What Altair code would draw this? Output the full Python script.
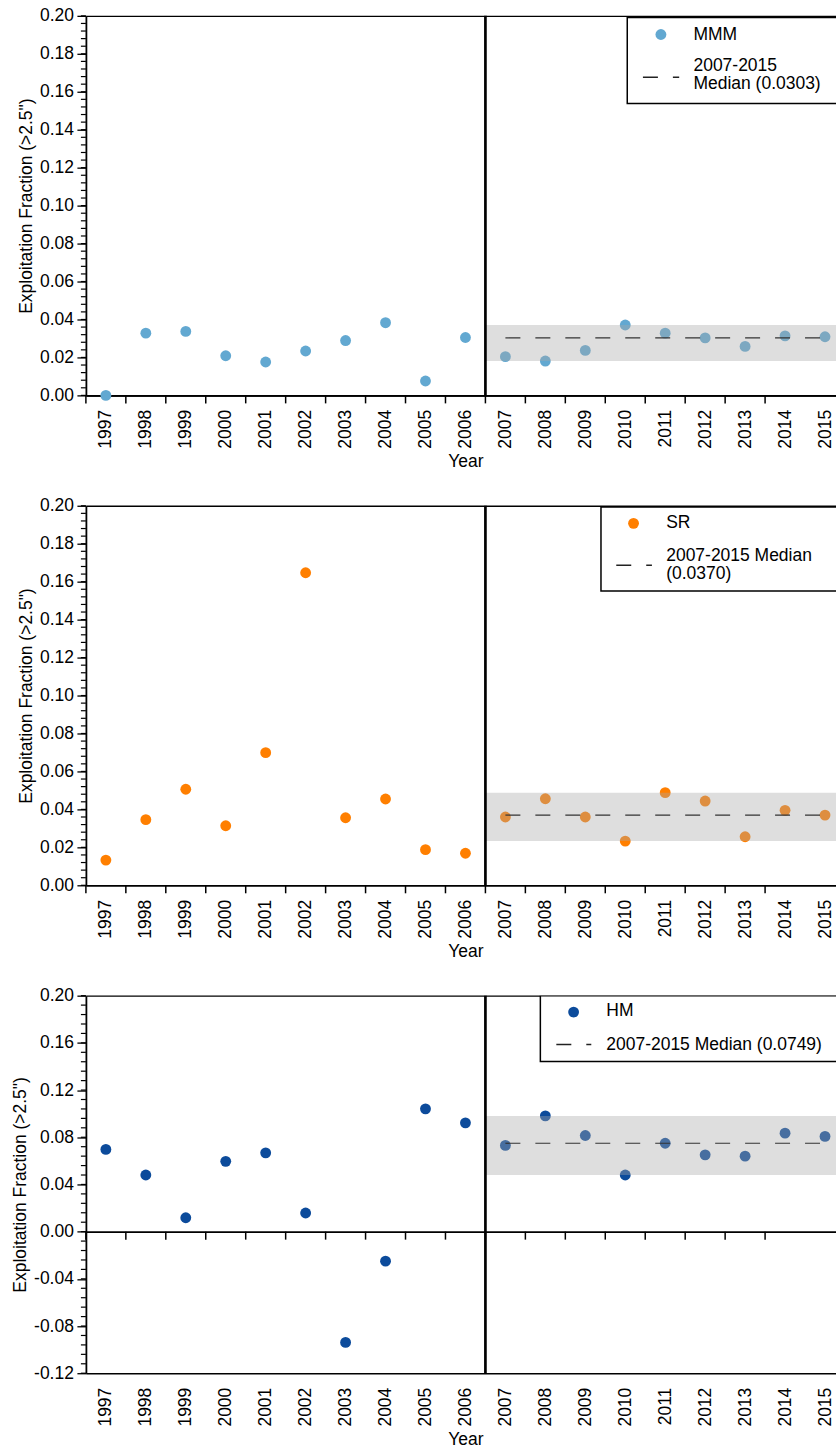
import altair as alt
import numpy as np
import pandas as pd

# Survey years and exploitation fractions (>2.5") for each region
YEARS = list(range(1997, 2016))
MMM = [0.0000, 0.0328, 0.0337, 0.0209, 0.0176, 0.0234, 0.0289, 0.0383, 0.0076, 0.0305,
       0.0204, 0.0181, 0.0237, 0.0371, 0.0328, 0.0303, 0.0258, 0.0314, 0.0309]
SR = [0.0133, 0.0346, 0.0506, 0.0314, 0.0699, 0.1647, 0.0356, 0.0455, 0.0188, 0.0169,
      0.0360, 0.0456, 0.0360, 0.0233, 0.0488, 0.0444, 0.0256, 0.0395, 0.0370]
HM = [0.0697, 0.0480, 0.0118, 0.0596, 0.0668, 0.0158, -0.0939, -0.0250, 0.1041, 0.0922,
      0.0731, 0.0981, 0.0815, 0.0480, 0.0749, 0.0651, 0.0640, 0.0835, 0.0807]

SERIES_NAMES = ["MMM", "SR", "HM"]
SERIES_COLORS = ["#62a8d1", "#ff7f00", "#0c4b9b"]

RECENT_START = 2007          # first year of the reference period
SPLIT = 2006.5               # divider between the two periods
X_MIN, X_MAX = 1996.5, 2015.275
BAND_END = 2016

FONT = "Liberation Sans"
FS = 17.5
PLOT_W = 751
DASH = [15, 15]
TICK_COLOR = "black"


def y_ticks(lo, hi, step):
    n = int(round((hi - lo) / step))
    return [round(lo + i * step, 4) for i in range(n + 1)]


def panel(name, values, color, ydom, major_step, minor_step, height, legend):
    df = pd.DataFrame({"year": YEARS, "value": values})
    recent = df[df["year"] >= RECENT_START]
    med = float(np.median(recent["value"]))

    xscale = alt.Scale(domain=[X_MIN, X_MAX], nice=False, zero=False)
    yscale = alt.Scale(domain=ydom, nice=False, zero=False)
    zero_offset = -height * (0 - ydom[0]) / (ydom[1] - ydom[0])

    labels_axis = alt.Axis(
        orient="bottom", values=YEARS, format="d", labelAngle=270,
        ticks=False, tickSize=0, labelPadding=14, labelFlush=False,
        labelOverlap=False, domain=True, domainWidth=1.6, grid=False,
        title="Year", titlePadding=4, titleX=380,
    )
    # zero line (coincides with the bottom edge when the domain starts at 0)
    zero_axis = alt.Axis(
        orient="bottom", labels=False, ticks=False, domain=True,
        domainWidth=1.6, grid=False, offset=zero_offset, title=None,
    )
    top_axis = alt.Axis(
        orient="top", labels=False, ticks=False, domain=True,
        domainWidth=1.3, grid=False, title=None,
    )
    major_axis = alt.Axis(
        orient="left", values=y_ticks(ydom[0], ydom[1], major_step),
        labelExpr="replace(format(datum.value, '.2f'), '\u2212', '-')",
        tickSize=9, tickWidth=1.3, labelPadding=3.5, labelFlush=False,
        labelOverlap=False, domain=True, domainWidth=1.8, grid=False,
        title='Exploitation Fraction (>2.5")', titlePadding=4,
    )

    base = alt.Chart(df)

    points = base.mark_circle(size=118, color=color, opacity=1).encode(
        x=alt.X("year:Q", scale=xscale, axis=labels_axis),
        y=alt.Y("value:Q", scale=yscale, axis=major_axis),
    )

    # year-boundary tick marks hanging below the zero line
    edges = pd.DataFrame({"edge": [y - 0.5 for y in YEARS[:-1]], "base": 0.0})
    x_ticks = alt.Chart(edges).mark_tick(
        orient="vertical", color=TICK_COLOR, size=8, thickness=1.5, yOffset=4, opacity=1
    ).encode(
        x=alt.X("edge:Q", scale=xscale, axis=zero_axis),
        y=alt.Y("base:Q", scale=yscale, axis=None),
    )

    # minor ticks on the value axis
    minor = pd.DataFrame({"v": y_ticks(ydom[0], ydom[1], minor_step)})
    y_minor = alt.Chart(minor).mark_rule(color=TICK_COLOR, strokeWidth=1.2).encode(
        y=alt.Y("v:Q", scale=yscale, axis=None),
        x=alt.value(-5),
        x2=alt.value(0),
    )

    band = (
        base.transform_filter(alt.datum.year >= RECENT_START)
        .transform_aggregate(lo="min(value)", hi="max(value)")
        .transform_calculate(x0=str(SPLIT), x1=str(BAND_END))
        .mark_rect(color="#a8a8a8", opacity=0.38, clip=True)
        .encode(
            x=alt.X("x0:Q", scale=xscale, axis=None),
            x2="x1:Q",
            y=alt.Y("lo:Q", scale=yscale, axis=None),
            y2="hi:Q",
        )
    )

    median = (
        base.transform_filter(alt.datum.year >= RECENT_START)
        .transform_aggregate(med="median(value)", start="min(year)", end="max(year)")
        .mark_rule(color="#333333", strokeWidth=1.2, strokeDash=DASH)
        .encode(
            x=alt.X("start:Q", scale=xscale, axis=top_axis),
            x2="end:Q",
            y=alt.Y("med:Q", scale=yscale, axis=None),
        )
    )

    divider = alt.Chart(pd.DataFrame({"split": [SPLIT]})).mark_rule(
        color="black", strokeWidth=2.7
    ).encode(x=alt.X("split:Q", scale=xscale, axis=None))

    # legend drawn inside the plot area, clipped at the right edge
    period = f"{RECENT_START}-{YEARS[-1]}"
    med_label = legend["fmt"].format(period=period, med=med)
    leg = alt.Chart(pd.DataFrame({"series": [name], "label": [med_label]}))

    box = leg.mark_rect(fill="white", stroke="black", strokeWidth=1.5, clip=True).encode(
        x=alt.value(legend["box"][0]), x2=alt.value(PLOT_W + 40),
        y=alt.value(legend["box"][1]), y2=alt.value(legend["box"][2]),
    )
    sym = leg.mark_circle(size=118, color=color, opacity=1).encode(
        x=alt.value(legend["sym"][0]), y=alt.value(legend["sym"][1]),
    )
    dash = leg.mark_rule(color="#222222", strokeWidth=1.5, strokeDash=DASH).encode(
        x=alt.value(legend["dash"][0]), x2=alt.value(legend["dash"][1]),
        y=alt.value(legend["dash"][2]),
    )
    name_text = leg.mark_text(
        align="left", baseline="alphabetic", font=FONT, fontSize=FS, color="black"
    ).encode(x=alt.value(legend["text_x"]), y=alt.value(legend["name_y"]), text="series:N")
    med_text = leg.mark_text(
        align="left", baseline="alphabetic", font=FONT, fontSize=FS, color="black",
        lineBreak="\n", lineHeight=17.6,
    ).encode(x=alt.value(legend["text_x"]), y=alt.value(legend["med_y"]), text="label:N")

    return (
        alt.layer(points, x_ticks, y_minor, band, median, divider,
                  box, sym, dash, name_text, med_text)
        .resolve_axis(x="independent", y="independent")
        .properties(width=PLOT_W, height=height)
    )


LEGENDS = [
    dict(fmt="{period}\nMedian ({med:.4f})", box=(542, 1.7, 87.7), sym=(575.7, 18.7),
         dash=(557.7, 594, 61.4), text_x=608.3, name_y=24, med_y=55.4),
    dict(fmt="{period} Median\n({med:.4f})", box=(515.7, 1.3, 85.3), sym=(548.3, 17.6),
         dash=(531, 566.7, 59.6), text_x=581, name_y=22.6, med_y=55.3),
    dict(fmt="{period} Median ({med:.4f})", box=(455, 0, 66), sym=(488.3, 16.4),
         dash=(471, 506, 49), text_x=521, name_y=20, med_y=54),
]

p1 = panel(SERIES_NAMES[0], MMM, SERIES_COLORS[0], [0, 0.2], 0.02, 0.004, 380, LEGENDS[0])
p2 = panel(SERIES_NAMES[1], SR, SERIES_COLORS[1], [0, 0.2], 0.02, 0.004, 380, LEGENDS[1])
p3 = panel(SERIES_NAMES[2], HM, SERIES_COLORS[2], [-0.12, 0.2], 0.04, 0.008, 378, LEGENDS[2])

chart = (
    alt.vconcat(p1, p2, p3, spacing=26.5)
    .properties(padding={"left": 11, "top": 6, "right": 0, "bottom": 0})
    .configure(font=FONT)
    .configure_view(stroke=None)
    .configure_axis(
        labelFont=FONT, labelFontSize=FS, labelColor="black",
        titleFont=FONT, titleFontSize=FS, titleFontWeight="normal", titleColor="black",
        domainColor="black", tickColor="black",
    )
)

chart.save("out.html", embed_options={"renderer": "svg", "actions": False})
